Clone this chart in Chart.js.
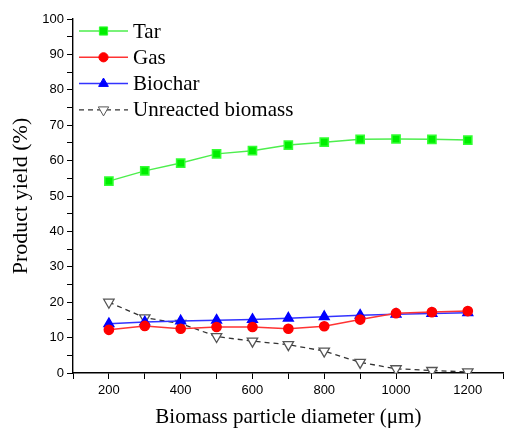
<!DOCTYPE html>
<html>
<head>
<meta charset="utf-8">
<script src="https://cdn.jsdelivr.net/npm/chart.js@4/dist/chart.umd.min.js"></script>
<style>
  html, body { margin: 0; padding: 0; background: #fff; }
  #wrap { width: 511px; height: 430px; }
</style>
</head>
<body>
<div id="wrap"><canvas id="yieldChart" width="511" height="430"></canvas></div>
<script>
// particle diameters (um)
var diameters = [200, 300, 400, 500, 600, 700, 800, 900, 1000, 1100, 1200];

// product yields (%)
var tarYield       = [54.2, 57.1, 59.3, 61.9, 62.8, 64.4, 65.2, 66.0, 66.1, 66.0, 65.8];
var gasYield       = [12.2, 13.3, 12.5, 13.0, 13.0, 12.5, 13.2, 15.1, 16.9, 17.2, 17.5];
var biocharYield   = [13.9, 14.4, 14.7, 14.9, 15.1, 15.5, 15.9, 16.3, 16.6, 16.8, 17.0];
var unreactedYield = [20.0, 15.6, 14.0, 10.3, 9.0, 8.0, 6.2, 3.0, 1.2, 0.7, 0.3];

var seriesNames = ['Tar', 'Gas', 'Biochar', 'Unreacted biomass'];

var xTitle = 'Biomass particle diameter (\u03bcm)';
var yTitle = 'Product yield (%)';

function toPoints(vals){
    var out = [];
    for (var i = 0; i < diameters.length; i++){
        out.push({x: diameters[i], y: vals[i]});
    }
    return out;
}

// legend drawn inside the plot: line sample with marker in the middle
var innerLegend = {
    id: 'innerLegend',
    afterDraw: function(chart){
        var ctx = chart.ctx;
        var x0 = 79, x1 = 128, rowY = 31, rowGap = 26.3;
        ctx.save();
        chart.data.datasets.forEach(function(ds, i){
            var y = rowY + i * rowGap;
            ctx.beginPath();
            ctx.strokeStyle = ds.borderColor;
            ctx.lineWidth = ds.borderWidth;
            ctx.setLineDash(ds.borderDash || []);
            ctx.moveTo(x0, y);
            ctx.lineTo(x1, y);
            ctx.stroke();
            ctx.setLineDash([]);
            ctx.fillStyle = ds.pointBackgroundColor;
            ctx.strokeStyle = ds.pointBorderColor;
            ctx.lineWidth = 1;
            Chart.helpers.drawPoint(ctx, {
                pointStyle: ds.pointStyle,
                radius: ds.pointRadius,
                rotation: ds.pointRotation || 0,
                borderWidth: 1
            }, (x0 + x1) / 2, y);
            ctx.fillStyle = '#000';
            ctx.font = '21px "Liberation Serif", "Times New Roman", serif';
            ctx.textBaseline = 'middle';
            ctx.textAlign = 'left';
            ctx.fillText(ds.label, x1 + 5, y + 1);
        });
        ctx.restore();
    }
};

var chart = new Chart(document.getElementById('yieldChart'), {
    type: 'line',
    data: {
        datasets: [{
            label: seriesNames[0],
            data: toPoints(tarYield),
            borderColor: '#4dee4d',
            borderWidth: 1.5,
            pointStyle: 'rect',
            pointRadius: 5.8,
            pointBackgroundColor: '#00ee00',
            pointBorderColor: '#33ff33'
        }, {
            label: seriesNames[1],
            data: toPoints(gasYield),
            borderColor: '#ff3333',
            borderWidth: 1.5,
            pointStyle: 'circle',
            pointRadius: 4.6,
            pointBackgroundColor: '#ff0000',
            pointBorderColor: '#ff0000'
        }, {
            label: seriesNames[2],
            data: toPoints(biocharYield),
            borderColor: '#3333ff',
            borderWidth: 1.5,
            pointStyle: 'triangle',
            pointRadius: 5.6,
            pointBackgroundColor: '#0000ff',
            pointBorderColor: '#0000ff'
        }, {
            label: seriesNames[3],
            data: toPoints(unreactedYield),
            borderColor: '#333333',
            borderWidth: 1.3,
            borderDash: [5, 4],
            pointStyle: 'triangle',
            pointRotation: 180,
            pointRadius: 6,
            pointBackgroundColor: '#ffffff',
            pointBorderColor: '#555555'
        }]
    },
    options: {
        responsive: false,
        animation: false,
        layout: { padding: { top: 19, right: 1, left: 8, bottom: 0 } },
        plugins: {
            legend: { display: false },
            tooltip: { enabled: false }
        },
        scales: {
            x: {
                type: 'linear',
                min: 100,
                max: 1300,
                border: { display: true, color: '#000', width: 1.4 },
                grid: { drawOnChartArea: false, drawTicks: true, tickLength: 6, color: '#000' },
                ticks: {
                    stepSize: 100,
                    autoSkip: false,
                    maxRotation: 0,
                    color: '#000',
                    padding: 4,
                    font: { family: '"Liberation Sans", Arial, sans-serif', size: 13 },
                    callback: function(v){
                        return (v % 200 === 0 && v <= 1200) ? String(v) : '';
                    }
                },
                title: {
                    display: true,
                    text: xTitle,
                    color: '#000',
                    padding: { top: 5, bottom: 0 },
                    font: { family: '"Liberation Serif", "Times New Roman", serif', size: 21 }
                },
                afterFit: function(scale){ scale.height = 57; }
            },
            y: {
                min: 0,
                max: 100,
                border: { display: true, color: '#000', width: 1.4 },
                grid: { drawOnChartArea: false, drawTicks: true, tickLength: 6, color: '#000' },
                ticks: {
                    stepSize: 5,
                    autoSkip: false,
                    color: '#000',
                    padding: 3,
                    font: { family: '"Liberation Sans", Arial, sans-serif', size: 13 },
                    callback: function(v){
                        return v % 10 === 0 ? String(v) : '';
                    }
                },
                title: {
                    display: true,
                    text: yTitle,
                    color: '#000',
                    padding: { top: 0, bottom: 6 },
                    font: { family: '"Liberation Serif", "Times New Roman", serif', size: 22 }
                },
                afterFit: function(scale){ scale.width = 65; }
            }
        }
    },
    plugins: [innerLegend]
});
</script>
</body>
</html>
